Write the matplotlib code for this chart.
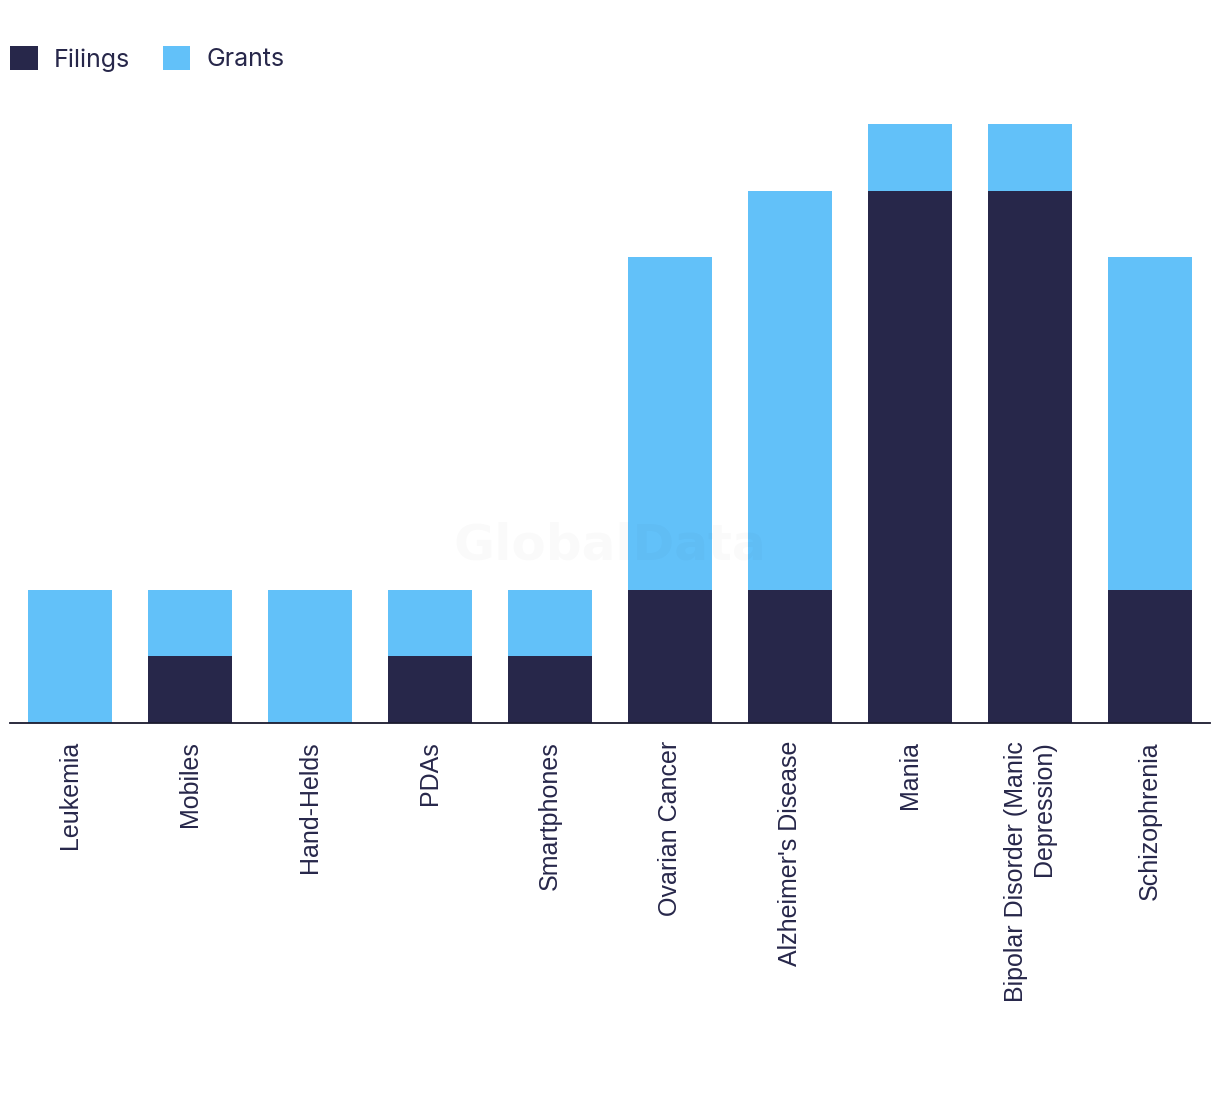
import matplotlib
matplotlib.use("Agg")
import matplotlib.pyplot as plt
import numpy as np

categories = [
    "Leukemia", "Mobiles", "Hand-Helds", "PDAs", "Smartphones",
    "Ovarian Cancer", "Alzheimer's Disease", "Mania",
    "Bipolar Disorder (Manic\nDepression)", "Schizophrenia",
]
filings = [0, 1, 0, 1, 1, 2, 2, 8, 8, 2]
grants = [2, 1, 2, 1, 1, 5, 6, 1, 1, 5]

dark = "#27274a"
light = "#62c1f9"

fig = plt.figure(figsize=(12.2, 10.94), dpi=100)
ax = fig.add_axes([10 / 1220, 371 / 1094, 1200 / 1220, 599 / 1094])

x = np.arange(len(categories))
ax.bar(x, filings, width=0.7, color=dark, label="Filings")
ax.bar(x, grants, width=0.7, bottom=filings, color=light, label="Grants")

ax.set_xlim(-0.5, len(categories) - 0.5)
ax.set_ylim(0, 9)
ax.set_yticks([])
ax.set_xticks(x)
ax.set_xticklabels(categories, rotation=90, fontsize=18, family="Liberation Sans",
                   color="#27274a", va="top", ha="center", multialignment="right")
ax.tick_params(axis="x", length=0, pad=13)
for s in ["top", "right", "left"]:
    ax.spines[s].set_visible(False)
ax.spines["bottom"].set_color("#1a1a2e")
ax.spines["bottom"].set_linewidth(1.3)

# faint watermark
fig.text(0.5, 1 - 545 / 1094, "GlobalData", ha="center", va="center",
         fontsize=36, fontweight="bold", color="#000000", alpha=0.02)

fig.legend(loc="upper left", bbox_to_anchor=(10 / 1220, 1 - 46 / 1094), ncol=2,
           frameon=False, handlelength=1.1, handleheight=1.1, handletextpad=0.65,
           columnspacing=1.3, borderaxespad=0, borderpad=0,
           prop={"family": "Inter", "size": 18})
for t in fig.legends[0].get_texts():
    t.set_color("#27274a")

fig.savefig("out.png", dpi=100)
